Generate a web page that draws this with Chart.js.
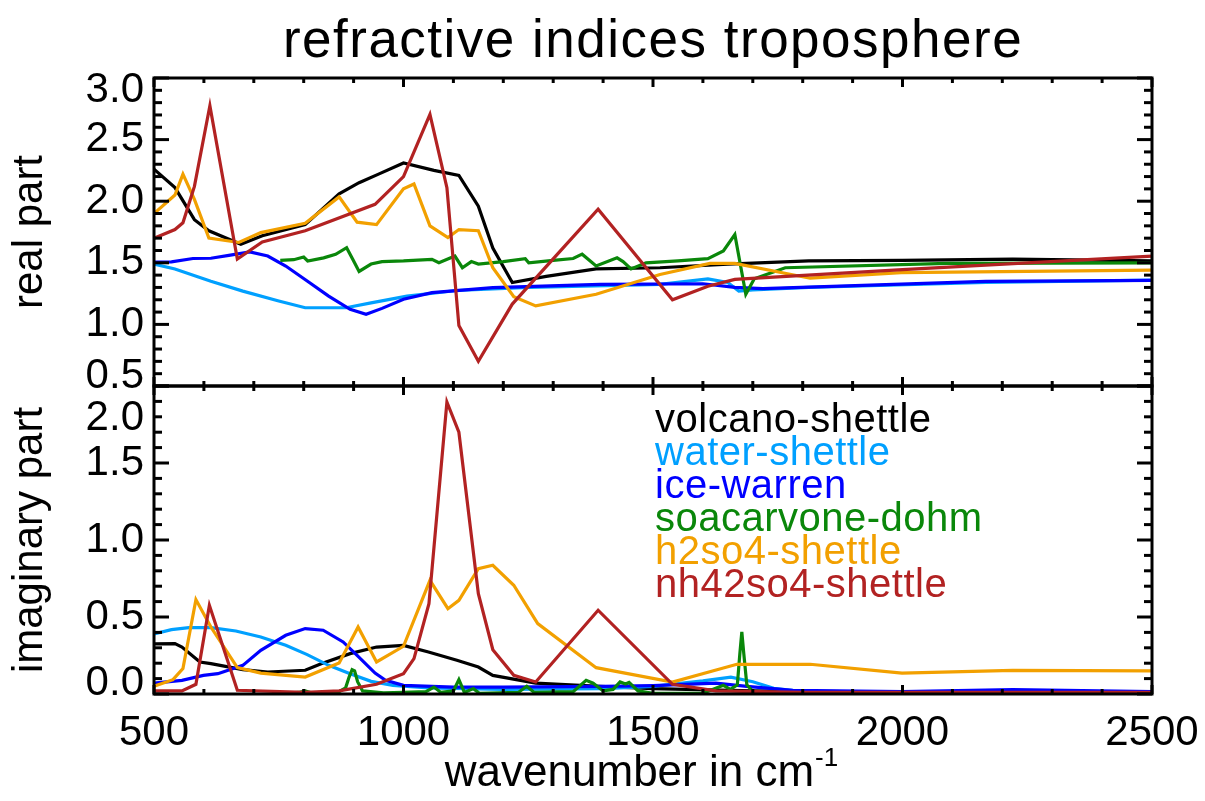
<!DOCTYPE html>
<html>
<head>
<meta charset="utf-8">
<title>refractive indices troposphere</title>
<script src="https://cdn.jsdelivr.net/npm/chart.js@4.4.1/dist/chart.umd.min.js"></script>
<style>
  html, body { margin: 0; padding: 0; background: #fff; }
  canvas { display: block; }
</style>
</head>
<body>
<canvas id="refrChart" width="1205" height="801"></canvas>
<script>
// wavenumber (cm-1) and refractive index, real (Re) and imaginary (Im) part
const volcanoReWn = [500, 542, 581, 610, 674, 717, 803, 871, 911, 950, 1000, 1061, 1111, 1150, 1179, 1218, 1286, 1386, 1514, 1650, 1812, 2000, 2221, 2500];
const volcanoRe   = [2.26, 2.11, 1.85, 1.76, 1.65, 1.72, 1.81, 2.06, 2.15, 2.22, 2.31, 2.25, 2.21, 1.96, 1.62, 1.34, 1.39, 1.45, 1.46, 1.49, 1.515, 1.52, 1.53, 1.515];
const volcanoImWn = [500, 542, 556, 592, 614, 678, 728, 803, 835, 893, 946, 1000, 1050, 1107, 1150, 1179, 1265, 1394, 1500, 1700, 2000, 2500];
const volcanoIm   = [0.325, 0.327, 0.305, 0.208, 0.197, 0.158, 0.143, 0.154, 0.197, 0.262, 0.305, 0.316, 0.273, 0.219, 0.175, 0.121, 0.071, 0.05, 0.035, 0.02, 0.012, 0.01];

const waterReWn = [500, 542, 614, 678, 750, 803, 885, 935, 1007, 1107, 1251, 1514, 1610, 1650, 1672, 1700, 1812, 2167, 2500];
const waterRe   = [1.49, 1.45, 1.35, 1.27, 1.19, 1.135, 1.135, 1.175, 1.23, 1.275, 1.30, 1.325, 1.37, 1.34, 1.27, 1.28, 1.30, 1.34, 1.36];
const waterImWn = [500, 535, 570, 614, 664, 714, 764, 807, 850, 893, 935, 979, 1050, 1200, 1400, 1500, 1600, 1656, 1700, 1742, 1800, 2500];
const waterIm   = [0.39, 0.418, 0.431, 0.431, 0.409, 0.37, 0.316, 0.256, 0.186, 0.132, 0.082, 0.056, 0.04, 0.03, 0.035, 0.05, 0.085, 0.11, 0.08, 0.037, 0.015, 0.01];

const iceReWn = [500, 535, 578, 614, 650, 692, 728, 764, 807, 850, 893, 925, 957, 1000, 1057, 1179, 1394, 1600, 1664, 1720, 2167, 2500];
const iceRe   = [1.505, 1.507, 1.535, 1.537, 1.56, 1.588, 1.555, 1.474, 1.352, 1.23, 1.122, 1.082, 1.13, 1.204, 1.258, 1.298, 1.325, 1.33, 1.30, 1.29, 1.35, 1.357];
const iceImWn = [500, 556, 599, 628, 678, 714, 764, 803, 839, 879, 907, 943, 964, 1000, 1100, 1200, 1400, 1500, 1626, 1688, 1780, 2000, 2221, 2500];
const iceIm   = [0.07, 0.089, 0.121, 0.132, 0.186, 0.284, 0.381, 0.425, 0.414, 0.338, 0.251, 0.136, 0.089, 0.056, 0.045, 0.045, 0.05, 0.055, 0.07, 0.05, 0.024, 0.015, 0.028, 0.015];

const soaReWn = [753, 780, 800, 808, 840, 864, 886, 898, 911, 935, 957, 1000, 1057, 1071, 1103, 1118, 1136, 1150, 1200, 1244, 1251, 1300, 1340, 1358, 1386, 1428, 1440, 1456, 1486, 1550, 1610, 1641, 1664, 1686, 1703, 1765, 2090, 2500];
const soaRe   = [1.52, 1.525, 1.547, 1.515, 1.54, 1.569, 1.623, 1.53, 1.43, 1.49, 1.51, 1.515, 1.528, 1.50, 1.555, 1.46, 1.51, 1.49, 1.51, 1.534, 1.50, 1.52, 1.535, 1.57, 1.474, 1.54, 1.51, 1.45, 1.50, 1.515, 1.534, 1.596, 1.73, 1.245, 1.37, 1.46, 1.495, 1.50];
const soaImWn = [753, 790, 803, 815, 871, 884, 891, 897, 902, 908, 918, 960, 1000, 1045, 1061, 1075, 1100, 1111, 1122, 1140, 1152, 1230, 1247, 1262, 1340, 1366, 1380, 1400, 1420, 1434, 1445, 1452, 1470, 1500, 1600, 1641, 1655, 1669, 1674, 1678, 1682, 1688, 1699, 1720, 2500];
const soaIm   = [0.003, 0.01, 0.02, 0.008, 0.015, 0.04, 0.11, 0.158, 0.15, 0.08, 0.02, 0.008, 0.01, 0.015, 0.045, 0.01, 0.02, 0.093, 0.01, 0.035, 0.005, 0.01, 0.05, 0.01, 0.015, 0.089, 0.07, 0.02, 0.03, 0.078, 0.065, 0.075, 0.02, 0.005, 0.005, 0.056, 0.03, 0.06, 0.26, 0.403, 0.26, 0.06, 0.02, 0.005, 0.0];

const h2so4ReWn = [500, 542, 558, 581, 610, 670, 714, 803, 871, 907, 946, 1000, 1021, 1053, 1089, 1111, 1150, 1179, 1221, 1265, 1386, 1514, 1614, 1664, 1815, 1997, 2500];
const h2so4Re   = [1.90, 2.05, 2.22, 2.015, 1.70, 1.665, 1.745, 1.82, 2.035, 1.83, 1.81, 2.10, 2.14, 1.80, 1.705, 1.77, 1.76, 1.46, 1.225, 1.15, 1.245, 1.405, 1.495, 1.495, 1.375, 1.42, 1.44];
const h2so4ImWn = [500, 538, 558, 584, 614, 667, 714, 803, 871, 909, 946, 1000, 1053, 1089, 1111, 1150, 1179, 1221, 1269, 1386, 1539, 1668, 1815, 1999, 2221, 2500];
const h2so4Im   = [0.05, 0.093, 0.165, 0.613, 0.435, 0.171, 0.136, 0.11, 0.201, 0.435, 0.208, 0.31, 0.738, 0.554, 0.608, 0.814, 0.836, 0.706, 0.457, 0.171, 0.078, 0.193, 0.193, 0.136, 0.154, 0.15];

const nh4ReWn = [500, 542, 558, 581, 612, 667, 717, 803, 943, 1000, 1053, 1087, 1111, 1150, 1218, 1390, 1539, 1610, 1664, 2000, 2500];
const nh4Re   = [1.70, 1.77, 1.825, 2.12, 2.775, 1.53, 1.67, 1.76, 1.975, 2.20, 2.705, 2.11, 0.99, 0.70, 1.165, 1.935, 1.20, 1.31, 1.365, 1.445, 1.555];
const nh4ImWn = [500, 556, 584, 611, 667, 803, 871, 946, 1000, 1021, 1051, 1087, 1111, 1150, 1179, 1221, 1265, 1390, 1539, 1626, 1800, 2500];
const nh4Im   = [0.02, 0.02, 0.063, 0.576, 0.024, 0.01, 0.02, 0.063, 0.132, 0.23, 0.587, 1.896, 1.70, 0.652, 0.288, 0.121, 0.078, 0.544, 0.063, 0.02, 0.01, 0.01];

const FONT = '"Liberation Sans", Arial, Helvetica, sans-serif';

const series = [
    { label: 'volcano-shettle',  color: '#000000', re: [volcanoReWn, volcanoRe], im: [volcanoImWn, volcanoIm] },
    { label: 'water-shettle',    color: '#00a0ff', re: [waterReWn, waterRe],     im: [waterImWn, waterIm] },
    { label: 'ice-warren',       color: '#0000ff', re: [iceReWn, iceRe],         im: [iceImWn, iceIm] },
    { label: 'soacarvone-dohm',  color: '#0a870a', re: [soaReWn, soaRe],         im: [soaImWn, soaIm] },
    { label: 'h2so4-shettle',    color: '#f2a000', re: [h2so4ReWn, h2so4Re],     im: [h2so4ImWn, h2so4Im] },
    { label: 'nh42so4-shettle',  color: '#b22222', re: [nh4ReWn, nh4Re],         im: [nh4ImWn, nh4Im] },
];

const pairs = (wn, v) => wn.map((w, i) => ({ x: w, y: v[i] }));

// later series are painted over earlier ones
const datasets = [];
series.forEach((s, i) => {
    const base = { label: s.label, borderColor: s.color, backgroundColor: s.color,
                   borderWidth: 3.2, pointRadius: 0, tension: 0, order: series.length - i };
    datasets.push({ ...base, data: pairs(...s.re), yAxisID: 'yRe' });
    datasets.push({ ...base, data: pairs(...s.im), yAxisID: 'yIm' });
});

// inward edge shift for the first/last label of each panel
const edgeShift = { yRe: { top: 12, bottom: -10 }, yIm: { top: 32, bottom: -11 } };

const idlFrame = {
    id: 'idlFrame',
    afterDraw(chart) {
        const { ctx, scales, chartArea } = chart;
        const xs = scales.x;
        const seg = (x1, y1, x2, y2) => { ctx.beginPath(); ctx.moveTo(x1, y1); ctx.lineTo(x2, y2); ctx.stroke(); };

        ctx.save();
        ctx.strokeStyle = '#000';
        ctx.lineWidth = 3;

        ['yRe', 'yIm'].forEach(id => {
            const ys = scales[id];
            ctx.strokeRect(xs.left, ys.top, xs.right - xs.left, ys.bottom - ys.top);

            // x ticks every 100, inside top and bottom border
            for (let w = xs.min; w <= xs.max; w += 100) {
                const px = xs.getPixelForValue(w);
                const len = w % 500 === 0 ? 9 : 5;
                seg(px, ys.top, px, ys.top + len);
                seg(px, ys.bottom, px, ys.bottom - len);
            }

            // y ticks every 0.1, inside left and right border
            const n = Math.round((ys.max - ys.min) / 0.1);
            for (let k = 0; k <= n; k++) {
                const py = ys.getPixelForValue(ys.min + k * 0.1);
                const len = k % 5 === 0 ? 15 : 8;
                seg(xs.left, py, xs.left + len, py);
                seg(xs.right, py, xs.right - len, py);
            }

            ctx.fillStyle = '#000';
            ctx.font = `42px ${FONT}`;
            ctx.textAlign = 'right';
            ctx.textBaseline = 'middle';
            ys.ticks.forEach(t => {
                let py = ys.getPixelForValue(t.value);
                if (Math.abs(t.value - ys.max) < 1e-9) py += edgeShift[id].top;
                if (Math.abs(t.value - ys.min) < 1e-9) py += edgeShift[id].bottom;
                ctx.fillText(t.value.toFixed(1), xs.left - 10, py);
            });
        });

        // title
        ctx.textAlign = 'center';
        ctx.textBaseline = 'alphabetic';
        ctx.font = `53px ${FONT}`;
        ctx.letterSpacing = '1.5px';
        ctx.fillText('refractive indices troposphere', (chartArea.left + chartArea.right) / 2, 57);

        // x axis title with superscript
        ctx.letterSpacing = '0px';
        ctx.textAlign = 'left';
        const main = 'wavenumber in cm', sup = '-1';
        ctx.font = `44px ${FONT}`;
        const wMain = ctx.measureText(main).width;
        ctx.font = `26px ${FONT}`;
        const wSup = ctx.measureText(sup).width;
        const x0 = (chartArea.left + chartArea.right) / 2 - 12 - (wMain + wSup) / 2;
        ctx.font = `44px ${FONT}`;
        ctx.fillText(main, x0, 786);
        ctx.font = `26px ${FONT}`;
        ctx.fillText(sup, x0 + wMain + 1, 766);

        // legend: coloured names inside the lower panel
        const yIm = scales.yIm;
        ctx.font = `40px ${FONT}`;
        ctx.letterSpacing = '0.5px';
        series.forEach((s, i) => {
            ctx.fillStyle = s.color;
            ctx.fillText(s.label, chartArea.left + 501, yIm.top + 46 + i * 33);
        });
        ctx.restore();
    }
};

const yBase = (min, max, title) => ({
    type: 'linear',
    position: 'left',
    stack: 'panels',
    stackWeight: 1,
    min, max,
    ticks: { display: false, stepSize: 0.5 },
    grid: { display: false, drawTicks: false },
    border: { display: false },
    title: { display: true, text: title, color: '#000', font: { family: FONT, size: 42 }, padding: { top: 5, bottom: 0 } },
    afterFit: scale => { scale.width = 154; },
});

new Chart(document.getElementById('refrChart'), {
    type: 'line',
    data: { datasets },
    options: {
        responsive: false,
        maintainAspectRatio: false,
        devicePixelRatio: 1,
        animation: false,
        layout: { padding: { top: 78, right: 53, left: 0, bottom: 0 } },
        plugins: { legend: { display: false }, title: { display: false }, tooltip: { enabled: false } },
        elements: { line: { fill: false } },
        scales: {
            x: {
                type: 'linear',
                min: 500, max: 2500,
                ticks: { stepSize: 500, color: '#000', font: { family: FONT, size: 42 }, padding: 14,
                         maxRotation: 0, autoSkip: false, callback: v => String(v) },
                grid: { display: false, drawTicks: false },
                border: { display: false },
                afterFit: scale => {
                    scale.height = 107;
                    // end labels fit in the outer padding already
                    scale.paddingLeft = 0;
                    scale.paddingRight = 0;
                },
            },
            yIm: yBase(0, 2.0, 'imaginary part'),
            yRe: yBase(0.5, 3.0, 'real part'),
        },
    },
    plugins: [idlFrame],
});
</script>
</body>
</html>
